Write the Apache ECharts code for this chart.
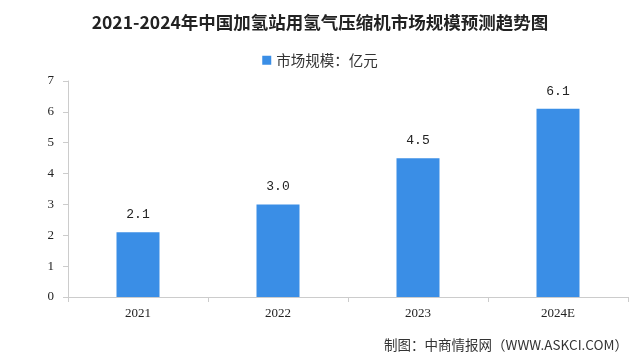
<!DOCTYPE html>
<html><head><meta charset="utf-8">
<script src="https://cdn.jsdelivr.net/npm/echarts@6/dist/echarts.min.js"></script>
<style>html,body{margin:0;padding:0;background:#fff}#c{width:640px;height:363px}</style>
</head><body><div id="c"></div>
<script>
const categories = ['2021', '2022', '2023', '2024E'];
const values = [2.1, 3.0, 4.5, 6.1];
const seriesName = '市场规模：亿元';
const titleText = '2021-2024年中国加氢站用氢气压缩机市场规模预测趋势图';
const sourceText = '制图：中商情报网（WWW.ASKCI.COM）';

const chart = echarts.init(document.getElementById('c'));
chart.setOption({
  backgroundColor: '#fff',
  animation: false,
  title: {
    text: titleText, left: 'center', top: 9,
    textStyle: { fontSize: 17.5, fontWeight: 'bold', color: '#222', fontFamily: 'Noto Sans CJK SC' }
  },
  legend: {
    data: [seriesName], top: 48, left: 'center',
    itemWidth: 9, itemHeight: 9, icon: 'rect', itemGap: 10,
    textStyle: { fontSize: 14.5, color: '#333', fontFamily: 'Noto Sans CJK SC' }
  },
  graphic: [{
    type: 'text', right: 12, top: 338,
    style: { text: sourceText, fontSize: 13.5, fill: '#333', fontFamily: 'Noto Sans CJK SC' }
  }],
  grid: { left: 68, right: 12, top: 81, bottom: 66, containLabel: false },
  xAxis: {
    type: 'category', data: categories,
    axisLine: { lineStyle: { color: '#ccc' } },
    axisTick: { show: true, alignWithLabel: false, lineStyle: { color: '#ccc' } },
    axisLabel: { fontSize: 13, color: '#222', margin: 10, fontFamily: 'Liberation Serif' }
  },
  yAxis: {
    type: 'value', min: 0, max: 7, interval: 1,
    axisLine: { show: true, lineStyle: { color: '#ccc' } },
    axisTick: { show: true, lineStyle: { color: '#ccc' } },
    splitLine: { show: false },
    axisLabel: { fontSize: 13, color: '#222', margin: 14, fontFamily: 'Liberation Serif' }
  },
  series: [{
    name: seriesName, type: 'bar', data: values, barWidth: 43,
    itemStyle: { color: '#3a8ee6' },
    label: {
      show: true, position: 'top', fontSize: 13, color: '#222', distance: 11,
      fontFamily: 'Liberation Mono',
      formatter: p => p.value.toFixed(1)
    }
  }]
});
</script></body></html>
